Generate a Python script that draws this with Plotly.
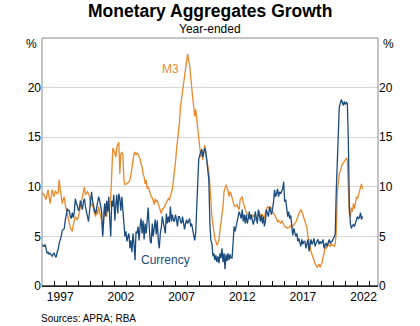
import pandas as pd
import plotly.graph_objects as go

# Year-ended growth, per cent, monthly from January 1996
m3_growth = [
    9.4, 9.3, 9.2, 9.0, 8.7, 9.2, 9.7, 9.0, 8.3, 9.0, 9.7, 9.3,          # 1996
    9.0, 9.6, 9.5, 9.3, 9.4, 10.7, 9.8, 9.2, 8.3, 8.7, 9.0, 8.2,         # 1997
    7.7, 7.2, 6.8, 6.3, 5.9, 5.7, 5.5, 6.2, 6.7, 7.0, 6.8, 6.7,          # 1998
    7.0, 7.5, 8.3, 8.8, 9.3, 9.6, 10.0, 9.2, 9.4, 9.5, 9.3, 9.0,         # 1999
    8.0, 8.3, 8.2, 7.5, 7.3, 7.0, 7.7, 7.2, 8.0, 7.5, 6.8, 6.6,          # 2000
    5.2, 7.3, 8.3, 7.8, 7.0, 8.2, 7.6, 8.0, 9.0, 11.3, 13.9, 13.7,       # 2001
    13.3, 13.0, 14.0, 14.4, 14.5, 11.3, 13.3, 13.5, 13.2, 10.7, 10.2, 10.3,  # 2002
    10.3, 10.4, 10.5, 10.7, 11.2, 12.0, 12.7, 13.3, 13.5, 13.2, 13.4, 13.3,  # 2003
    13.0, 12.8, 12.3, 12.0, 11.3, 11.0, 10.3, 10.7, 9.8, 10.0, 9.7, 9.2,     # 2004
    9.0, 8.9, 8.6, 8.2, 8.8, 8.5, 8.6, 8.3, 8.1, 7.6, 7.3, 7.8,          # 2005
    7.8, 8.0, 8.2, 8.3, 8.5, 8.8, 8.7, 9.0, 9.5, 9.8, 10.7, 12.0,        # 2006
    12.5, 13.7, 14.5, 15.5, 16.5, 18.1, 18.8, 19.5, 20.1, 21.0, 21.8, 22.6,  # 2007
    23.4, 22.8, 22.3, 21.2, 20.4, 19.0, 18.1, 17.1, 17.8, 16.8, 16.0, 15.0,  # 2008
    13.7, 13.0, 13.7, 12.7, 13.5, 14.2, 13.3, 12.7, 11.7, 11.5, 10.2, 8.3,   # 2009
    7.0, 6.2, 5.3, 4.8, 4.5, 4.1, 4.3, 4.6, 5.6, 6.3, 7.2, 8.0,          # 2010
    9.5, 10.0, 10.2, 9.9, 9.6, 9.0, 9.5, 9.3, 8.8, 8.3, 8.1, 8.0,        # 2011
    8.1, 8.2, 7.9, 7.7, 8.7, 8.9, 9.0, 8.4, 8.0, 7.5, 7.4, 7.3,          # 2012
    6.9, 6.8, 7.2, 7.0, 7.0, 7.2, 6.9, 6.6, 6.8, 7.0, 7.3, 7.5,          # 2013
    7.0, 7.1, 7.2, 7.0, 6.8, 7.5, 7.8, 8.0, 7.9, 7.8, 8.0, 7.7,          # 2014
    7.5, 7.3, 7.2, 7.0, 6.8, 6.5, 6.6, 6.5, 6.3, 6.6, 6.4, 6.1,          # 2015
    6.0, 5.9, 5.9, 5.8, 5.9, 6.0, 6.1, 5.9, 6.0, 6.1, 6.3, 6.4,          # 2016
    6.8, 7.1, 7.3, 7.5, 7.7, 7.5, 7.2, 7.0, 6.7, 6.3, 5.9, 5.0,          # 2017
    4.6, 4.1, 3.5, 3.1, 2.8, 2.6, 2.3, 2.1, 1.9, 2.0, 2.2, 1.9,          # 2018
    2.1, 2.4, 2.9, 3.3, 4.1, 3.8, 3.9, 4.3, 4.1, 4.0, 4.3, 4.1,          # 2019
    4.1, 4.0, 4.2, 5.5, 9.3, 10.5, 11.3, 11.6, 12.0, 12.3, 12.4, 12.6,   # 2020
    12.8, 12.9, 12.7, 10.5, 7.2, 7.0, 7.9, 7.5, 8.3, 7.8, 8.4, 9.0,      # 2021
    8.8, 9.2, 9.7, 10.0, 10.3, 9.8,                                      # 2022
]

currency_growth = [
    4.2, 4.0, 4.0, 4.2, 3.8, 3.3, 3.4, 3.2, 3.3, 3.1, 3.0, 3.2,          # 1996
    3.3, 3.0, 2.9, 3.4, 3.7, 4.3, 4.6, 5.0, 5.6, 5.7, 5.8, 6.6,          # 1997
    7.3, 7.8, 7.6, 7.6, 7.0, 6.8, 7.4, 6.9, 7.5, 8.8, 8.3, 8.1,          # 1998
    7.6, 7.8, 8.6, 8.0, 7.7, 8.5, 8.8, 8.0, 7.3, 7.0, 6.5, 7.4,          # 1999
    7.9, 9.5, 8.6, 8.0, 7.6, 7.3, 7.9, 8.4, 9.0, 8.6, 8.0, 7.5,          # 2000
    5.0, 7.7, 8.3, 7.0, 8.6, 7.5, 9.0, 6.8, 5.0, 8.6, 8.0, 9.2,          # 2001
    6.6, 8.2, 9.2, 7.3, 9.3, 8.8, 7.6, 9.0, 7.3, 6.0, 5.0, 5.5,          # 2002
    4.5, 5.0, 5.3, 3.8, 4.6, 3.4, 5.3, 4.3, 2.6, 5.5, 5.3, 6.0,          # 2003
    4.6, 6.0, 6.8, 5.3, 6.6, 4.7, 6.3, 5.3, 7.0, 7.9, 6.0, 4.5,          # 2004
    4.3, 6.3, 5.0, 6.0, 6.7, 5.2, 6.6, 4.6, 3.8, 5.3, 5.9, 7.0,          # 2005
    6.3, 5.8, 5.3, 7.3, 6.3, 7.0, 6.4, 8.0, 6.5, 7.2, 6.6, 6.5,          # 2006
    7.2, 6.7, 6.0, 7.0, 7.0, 6.5, 6.3, 7.0, 6.2, 5.7, 6.3, 6.7,          # 2007
    6.3, 6.6, 6.8, 6.0, 6.3, 5.7, 5.2, 4.6, 5.4, 8.0, 11.8, 12.8,        # 2008
    13.2, 13.5, 13.8, 13.0, 13.4, 13.9, 13.6, 12.7, 11.8, 10.7, 6.3, 4.6,    # 2009
    4.3, 3.0, 3.3, 2.6, 3.1, 2.4, 3.0, 2.3, 3.3, 2.8, 3.8, 2.4,          # 2010
    3.3, 1.7, 3.2, 2.5, 3.3, 2.6, 3.2, 2.8, 2.8, 4.6, 6.0, 5.5,          # 2011
    6.0, 6.2, 7.0, 7.5, 7.2, 6.8, 7.7, 6.5, 7.2, 6.3, 7.2, 6.3,          # 2012
    6.8, 7.5, 6.7, 7.2, 6.6, 6.2, 6.7, 7.5, 6.8, 6.3, 7.7, 7.1,          # 2013
    6.5, 7.2, 6.3, 7.0, 6.0, 6.6, 7.7, 7.3, 7.0, 8.0, 7.6, 7.2,          # 2014
    7.8, 8.5, 9.7, 9.0, 9.3, 9.8, 9.0, 9.5, 9.3, 9.6, 9.8, 10.5,         # 2015
    8.5, 8.7, 8.0, 7.0, 7.5, 6.8, 7.1, 5.6, 5.1, 5.8, 5.4, 5.0,          # 2016
    5.3, 4.5, 4.8, 4.3, 4.0, 4.7, 4.2, 4.5, 4.5, 3.8, 4.4, 4.7,          # 2017
    3.5, 4.0, 4.7, 4.2, 4.4, 4.8, 4.0, 4.3, 4.6, 4.7, 4.2, 4.5,          # 2018
    4.3, 4.4, 4.7, 3.8, 4.2, 4.3, 4.0, 4.3, 4.7, 4.3, 4.5, 4.5,          # 2019
    4.7, 4.9, 5.2, 9.5, 13.0, 16.4, 18.0, 18.4, 18.8, 18.5, 18.2, 18.6,  # 2020
    18.3, 18.5, 18.4, 14.5, 8.0, 6.3, 5.8, 6.1, 6.2, 6.0, 6.3, 6.5,      # 2021
    7.0, 6.8, 6.9, 7.4, 6.7, 7.0,                                        # 2022
]

dates = pd.date_range("1996-01-01", periods=len(m3_growth), freq="MS")

year_labels = [1997, 2002, 2007, 2012, 2017, 2022]
y_ticks = [0, 5, 10, 15, 20]

ORANGE = "#E8892B"
BLUE = "#1B4C7E"
FONT = "Liberation Sans, Arial, sans-serif"

W, H = 420, 326
PLOT_L, PLOT_R, PLOT_T, PLOT_B = 42, 378, 38, 286

fig = go.Figure()
fig.add_trace(go.Scatter(x=dates, y=m3_growth, mode="lines", name="M3",
                         line=dict(color=ORANGE, width=1.3)))
fig.add_trace(go.Scatter(x=dates, y=currency_growth, mode="lines", name="Currency",
                         line=dict(color=BLUE, width=1.3)))
# invisible trace so the right-hand axis is drawn
fig.add_trace(go.Scatter(x=[dates[0]], y=[0], yaxis="y2", mode="markers",
                         marker=dict(opacity=0), hoverinfo="skip", showlegend=False))

yaxis_common = dict(
    range=[0, 25], tickmode="array", tickvals=y_ticks,
    ticktext=[str(v) for v in y_ticks], ticks="",
    tickfont=dict(family=FONT, size=12, color="#000"),
    showline=False, zeroline=False,
)

fig.update_layout(
    width=W, height=H,
    margin=dict(l=PLOT_L, r=W - PLOT_R, t=PLOT_T, b=H - PLOT_B),
    paper_bgcolor="white", plot_bgcolor="white",
    showlegend=False,
    font=dict(family=FONT, color="#000"),
    xaxis=dict(
        type="date",
        range=["1996-01-01", "2023-09-10"],
        tickmode="array",
        tickvals=[f"{y}-07-02" for y in year_labels],
        ticktext=[str(y) for y in year_labels],
        ticks="", showgrid=False, zeroline=False,
        showline=True, linecolor="#000", linewidth=1,
        tickfont=dict(family=FONT, size=12, color="#000"),
        minor=dict(tickmode="array",
                   tickvals=[f"{y}-01-01" for y in range(1997, 2024)],
                   ticks="inside", ticklen=5, tickcolor="#000", tickwidth=1,
                   showgrid=False),
    ),
    yaxis=dict(**yaxis_common, side="left", showgrid=True,
               gridcolor="#d6d6d6", gridwidth=1),
    yaxis2=dict(**yaxis_common, side="right", overlaying="y", showgrid=False),
)

# plot frame: grey sides and top, black base line
fig.add_shape(type="rect", xref="paper", yref="paper", x0=0, x1=1, y0=0, y1=1,
              line=dict(color="#8a8a8a", width=1), fillcolor="rgba(0,0,0,0)", layer="above")
fig.add_shape(type="line", xref="paper", yref="paper", x0=0, x1=1, y0=0, y1=0,
              line=dict(color="#000", width=1), layer="above")


def paper_x(px):
    return (px - PLOT_L) / (PLOT_R - PLOT_L)


def paper_y(py):
    return (PLOT_B - py) / (PLOT_B - PLOT_T)


def page_text(text, px, py, size, anchor="center", color="#000"):
    fig.add_annotation(text=text, xref="paper", yref="paper",
                       x=paper_x(px), y=paper_y(py), xanchor=anchor, yanchor="middle",
                       showarrow=False, font=dict(family=FONT, size=size, color=color))


page_text("<b>Monetary Aggregates Growth</b>", 210, 11, 17.5)
page_text("Year-ended", 210, 29, 12)
page_text("Sources: APRA; RBA", 39, 318, 10, anchor="left")

# per-cent unit labels at the top of both axes
page_text("%", PLOT_L - 3, 44, 12, anchor="right")
page_text("%", PLOT_R + 3, 44, 12, anchor="left")

# series labels
fig.add_annotation(text="M3", x="2006-08-01", y=21.9, showarrow=False,
                   font=dict(family=FONT, size=12, color=ORANGE))
fig.add_annotation(text="Currency", x="2006-03-01", y=2.6, showarrow=False,
                   font=dict(family=FONT, size=12, color=BLUE))

fig.write_html("out.html")
